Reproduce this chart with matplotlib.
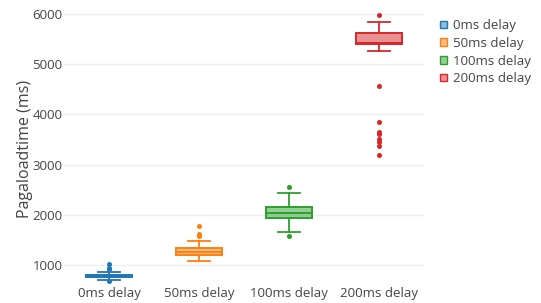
import matplotlib
matplotlib.use("Agg")
import matplotlib.pyplot as plt
from matplotlib.patches import Patch
from matplotlib.colors import to_rgba

plt.rcParams['font.family'] = ['Open Sans', 'DejaVu Sans']

categories = ["0ms delay", "50ms delay", "100ms delay", "200ms delay"]
colors = ["#1f77b4", "#ff7f0e", "#2ca02c", "#d62728"]
q1 = [765, 1190, 1930, 5400]
med = [785, 1255, 2040, 5430]
q3 = [805, 1330, 2145, 5615]
whislo = [690, 1070, 1648, 5270]
whishi = [860, 1484, 2432, 5834]
fliers = [
    [1025, 945, 915, 670],
    [1785, 1615, 1585],
    [2557, 1576],
    [5986, 4573, 3851, 3652, 3612, 3519, 3440, 3380, 3194],
]
yticks = [1000, 2000, 3000, 4000, 5000, 6000]

fig = plt.figure(figsize=(5.41, 3.03), dpi=100)
ax = fig.add_axes([64 / 541, 1 - 283 / 303, (424 - 64) / 541, 278 / 303])

for i, c in enumerate(colors):
    stats = [dict(med=med[i], q1=q1[i], q3=q3[i], whislo=whislo[i],
                  whishi=whishi[i], fliers=fliers[i], label=categories[i])]
    ax.bxp(stats, positions=[i], widths=0.51, patch_artist=True,
           boxprops=dict(facecolor=to_rgba(c, 0.5), edgecolor=c, linewidth=1.4),
           medianprops=dict(color=c, linewidth=1.4),
           whiskerprops=dict(color=c, linewidth=1.3),
           capprops=dict(color=c, linewidth=1.3),
           capwidths=0.25,
           flierprops=dict(marker='o', markerfacecolor=c, markeredgecolor=c,
                           markersize=2.6, linestyle='none'),
           zorder=3)

ax.set_xlim(-0.5, 3.5)
ax.set_ylim(640, 6180)
ax.set_yticks(yticks)
ax.set_yticklabels([str(v) for v in yticks])
ax.set_xticks(range(4))
ax.set_xticklabels(categories)
ax.tick_params(axis='both', length=0, labelsize=9.5, colors='#444444')
ax.tick_params(axis='y', pad=1.2)
ax.tick_params(axis='x', pad=3)
ax.grid(axis='y', color='#eeeeee', linewidth=1, zorder=0)
ax.set_axisbelow(True)
for s in ax.spines.values():
    s.set_visible(False)
fig.text(25 / 541, 1 - 149 / 303, "Pagaloadtime (ms)", rotation=90,
         ha='center', va='center', fontsize=11.5, color='#444444')

handles = [Patch(facecolor=to_rgba(c, 0.5), edgecolor=c, linewidth=1.0, label=l)
           for c, l in zip(colors, categories)]
fig.legend(handles=handles, loc='upper left', bbox_to_anchor=(440 / 541, 1 - 19 / 303),
           frameon=False, fontsize=9.5, handlelength=0.5, handleheight=0.5,
           handletextpad=0.5, labelspacing=0.36, borderpad=0, borderaxespad=0,
           labelcolor='#444444')

fig.savefig("out.png", dpi=100)
